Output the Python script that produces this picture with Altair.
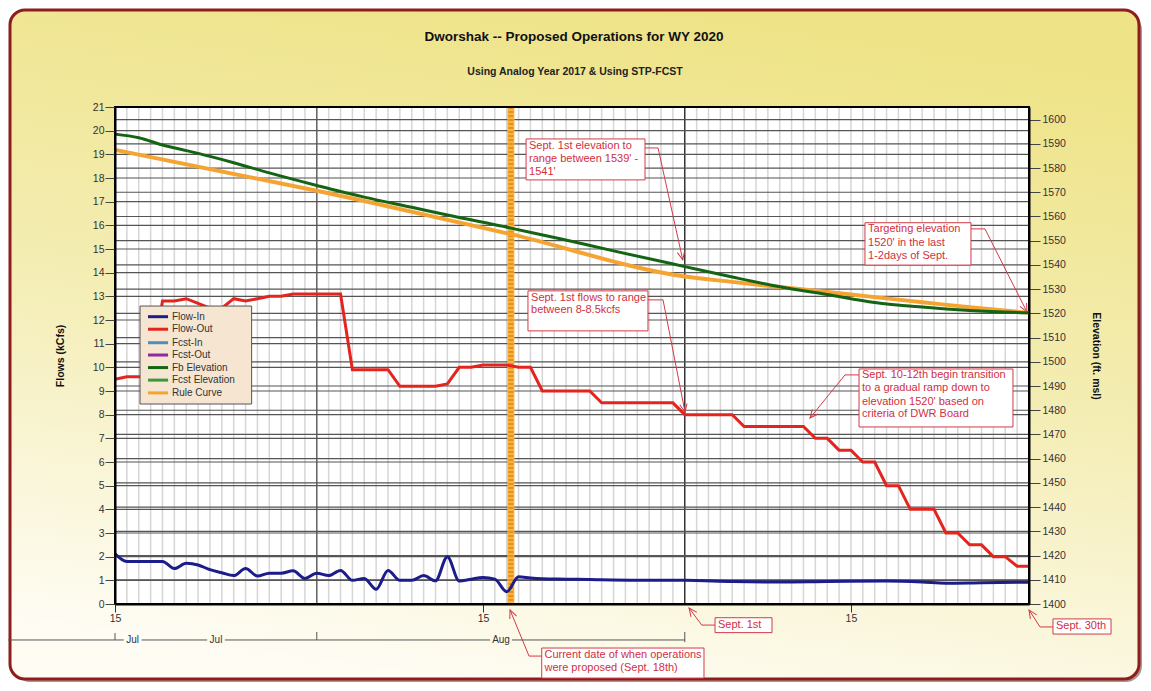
import math
import altair as alt
import pandas as pd

FONT = "Liberation Sans"
RED_TXT = "#d0303f"
RED_LINE = "#d23a48"

W, H = 914, 497
# x = days since Jul 15 (17 = Aug 1, 48 = Sep 1, 77 = Sep 30)
X_DOMAIN = [0, 77]
FLOW_DOMAIN = [0, 21]
ELEV_DOMAIN = [1400, 1605.2]

# ---------------- data ----------------
flow_out_days = list(range(78))
flow_out = [9.5, 9.6, 9.6, 9.6, 12.8, 12.8, 12.9, 12.7, 12.5, 12.5,
            12.9, 12.8, 12.9, 13.0, 13.0, 13.1, 13.1, 13.1, 13.1, 13.1,
            9.9, 9.9, 9.9, 9.9, 9.2, 9.2, 9.2, 9.2, 9.3, 10.0,
            10.0, 10.1, 10.1, 10.1, 10.0, 10.0, 9.0, 9.0, 9.0, 9.0,
            9.0, 8.5, 8.5, 8.5, 8.5, 8.5, 8.5, 8.5, 8.0, 8.0,
            8.0, 8.0, 8.0, 7.5, 7.5, 7.5, 7.5, 7.5, 7.5, 7.0,
            7.0, 6.5, 6.5, 6.0, 6.0, 5.0, 5.0, 4.0, 4.0, 4.0,
            3.0, 3.0, 2.5, 2.5, 2.0, 2.0, 1.6, 1.6]

flow_in_days = list(range(37)) + [38, 40, 44, 48, 52, 56, 60, 65, 68, 70, 73, 77]
flow_in = [2.12, 1.8, 1.8, 1.8, 1.8, 1.5, 1.72, 1.65, 1.45, 1.32,
           1.2, 1.5, 1.18, 1.3, 1.3, 1.4, 1.08, 1.3, 1.2, 1.42,
           1.0, 1.08, 0.62, 1.42, 1.0, 1.0, 1.2, 0.98, 2.0, 0.97,
           1.05, 1.12, 1.05, 0.52, 1.15, 1.1, 1.07,
           1.05, 1.03, 1.0, 1.0, 0.95, 0.93, 0.95, 0.97, 0.93, 0.88, 0.9, 0.92]

fb_days = [0, 2, 4, 6, 8, 10, 13, 17, 19, 21, 25, 29, 32.7, 33.35, 37.5, 42,
           48, 52, 56, 60, 64, 68, 72, 77]
fb_elev = [1594.0, 1592.5, 1589.5, 1587.2, 1584.8, 1582.2, 1578.0, 1572.8, 1570.3,
           1568.0, 1563.8, 1559.6, 1555.9, 1555.2, 1550.8, 1545.8, 1539.3, 1535.0,
           1531.0, 1527.8, 1524.5, 1522.6, 1521.2, 1520.2]

rule_days = [0, 17, 21, 33.35, 48, 52, 56, 60, 64, 68, 72, 77]
rule_elev = [1587.5, 1570.6, 1566.4, 1552.7, 1535.2, 1533.0, 1530.9, 1528.8,
             1526.7, 1524.6, 1522.5, 1520.2]

current_day = 33.35

series_names = ["Flow-In", "Flow-Out", "Fcst-In", "Fcst-Out",
                "Fb Elevation", "Fcst Elevation", "Rule Curve"]
series_colors = ["#1c1c8a", "#e3241f", "#4f8fb8", "#8e2a9e",
                 "#146414", "#3a9a3a", "#f5a431"]

x_tick_days = [0, 31, 62]
flow_ticks = list(range(0, 22))
elev_ticks = list(range(1400, 1601, 10))
grid_days = list(range(0, 77))
month_days = [17, 48]

# legend layout (data units)
legend_rows = [12.14, 11.61, 11.04, 10.52, 9.99, 9.46, 8.92]

# bottom month band
band_seg_d0 = [-9.0, 2.24, 9.26, 33.44]
band_seg_d1 = [0.74, 7.76, 31.6, 48.0]
band_f = -1.52
band_tick_d = [0, 17, 48]
band_tick_top = [-1.23, -1.18, -1.18]
band_tick_bot = [-1.52, -1.52, -1.61]
band_labels = ["Jul", "Jul", "Aug"]
band_label_d = [1.49, 8.51, 32.52]

# annotations
box_d0 = [34.63, 34.79, 63.18, 62.68, 50.55, 35.95, 79.02]
box_d1 = [44.65, 44.90, 72.11, 75.65, 55.35, 49.62, 83.91]
box_ft = [19.65, 13.23, 16.11, 9.93, -0.58, -1.86, -0.63]
box_fb = [17.92, 11.54, 14.32, 7.48, -1.21, -3.13, -1.27]

note_d = [34.88, 34.88, 34.88, 35.05, 35.05, 63.44, 63.44, 63.44,
          62.93, 62.93, 62.93, 62.93, 50.80, 36.18, 36.18, 79.27]
note_f = [19.37, 18.79, 18.24, 12.94, 12.42, 15.83, 15.27, 14.70,
          9.68, 9.11, 8.55, 8.03, -0.89, -2.15, -2.72, -0.93]
note_text = ["Sept. 1st elevation to", "range between 1539' -", "1541'",
             "Sept. 1st flows to range", "between 8-8.5kcfs",
             "Targeting elevation", "1520' in the last", "1-2days of Sept.",
             "Sept. 10-12th begin transition", "to a gradual ramp down to",
             "elevation 1520' based on", "criteria of DWR Board",
             "Sept. 1st",
             "Current date of when operations", "were proposed (Sept. 18th)",
             "Sept. 30th"]

leaders = [
    [(44.65, 19.27), (45.75, 19.27), (47.83, 14.54)],
    [(44.90, 12.85), (46.17, 12.85), (48.02, 8.11)],
    [(72.11, 15.85), (73.29, 15.85), (76.83, 12.34)],
    [(62.68, 9.68), (61.50, 9.68), (58.55, 7.86)],
    [(50.55, -0.89), (49.43, -0.89), (48.36, -0.17)],
    [(35.95, -2.20), (34.88, -2.20), (33.28, -0.25)],
    [(79.02, -0.97), (77.93, -0.97), (77.0, -0.25)],
]

# ---------------- scales / axes ----------------
PPD = W / (X_DOMAIN[1] - X_DOMAIN[0])
PPF = H / (FLOW_DOMAIN[1] - FLOW_DOMAIN[0])

XS = alt.Scale(domain=X_DOMAIN, nice=False, zero=False)
FS = alt.Scale(domain=FLOW_DOMAIN, nice=False, zero=False)
ES = alt.Scale(domain=ELEV_DOMAIN, nice=False, zero=False)
CS = alt.Scale(domain=series_names, range=series_colors)

XA = alt.Axis(values=x_tick_days, labelExpr="'15'", title=None, grid=False,
              tickSize=8, tickColor="#333333", tickWidth=1,
              domainColor="#000000", domainWidth=2,
              labelFontSize=10.5, labelColor="#333333", labelFont=FONT,
              labelPadding=1, labelFlush=False, labelOverlap=False, zindex=1)
FA = alt.Axis(values=flow_ticks, title="Flows (kCfs)", grid=False, format="d",
              tickSize=10, tickColor="#444444", tickWidth=1,
              domainColor="#000000", domainWidth=2,
              labelFontSize=10.5, labelColor="#333333", labelFont=FONT,
              labelPadding=1, labelFlush=False, labelOverlap=False,
              titleFont=FONT, titleFontSize=10.5, titleFontWeight="bold",
              titleColor="#111111", titleX=-55, titleY=H / 2, titleAngle=270,
              titleAlign="center", titleBaseline="middle", zindex=1)
EA = alt.Axis(orient="right", values=elev_ticks, title="Elevation (ft. msl)",
              grid=False, format="d", tickSize=11, tickColor="#444444", tickWidth=1,
              domainColor="#000000", domainWidth=2,
              labelFontSize=10.5, labelColor="#333333", labelFont=FONT,
              labelPadding=2, labelFlush=False, labelOverlap=False,
              titleFont=FONT, titleFontSize=10.5, titleFontWeight="bold",
              titleColor="#111111", titleX=66, titleY=H / 2, titleAngle=90,
              titleAlign="center", titleBaseline="middle", zindex=1)


def X(f):
    return alt.X(f, type="quantitative", scale=XS, axis=XA)


def Y(f):
    return alt.Y(f, type="quantitative", scale=FS, axis=FA)


def YE(f, axis=None):
    return alt.Y(f, type="quantitative", scale=ES, axis=axis)


def C():
    return alt.Color("series:N", scale=CS, legend=None)


one = pd.DataFrame({"a": [0]})

# ---------------- child A: backgrounds + grids (elevation scale) ----------------
bg_shadow = alt.Chart(one).mark_rect(fill="#6a3a30", opacity=0.55, cornerRadius=16).encode(
    x=alt.value(-101), x2=alt.value(1027), y=alt.value(-93), y2=alt.value(575))
bg = alt.Chart(one).mark_rect(
    fill={"gradient": "linear", "x1": 0.62, "y1": 0, "x2": 0.38, "y2": 1,
          "stops": [{"offset": 0, "color": "#eee386"},
                    {"offset": 0.5, "color": "#f4edb4"},
                    {"offset": 1, "color": "#fefcf3"}]},
    stroke="#8e1d1d", strokeWidth=3, cornerRadius=15).encode(
    x=alt.value(-105), x2=alt.value(1024), y=alt.value(-97), y2=alt.value(572))
plot_bg = alt.Chart(one).mark_rect(fill="white").encode(
    x=alt.value(0), x2=alt.value(W), y=alt.value(0), y2=alt.value(H))
vgrid = alt.Chart(pd.DataFrame({"d": grid_days})).mark_rule(
    color="#d6d6d6", strokeWidth=1.5).encode(x=X("d"))
mgrid = alt.Chart(pd.DataFrame({"d": month_days, "c": ["#555555", "#222222"]})).mark_rule(
    strokeWidth=1.3).encode(x=X("d"), color=alt.Color("c:N", scale=None))
egrid = alt.Chart(pd.DataFrame({"e": elev_ticks[1:]})).mark_rule(
    color="#555555", strokeWidth=1.2).encode(y=YE("e"))
childA = alt.layer(bg_shadow, bg, plot_bg, vgrid, mgrid, egrid)

# ---------------- child B: flows, annotations, legend ----------------
fgrid = alt.Chart(pd.DataFrame({"f": flow_ticks[1:-1]})).mark_rule(
    color="#555555", strokeWidth=1.2).encode(y=Y("f"))
cur_base = alt.Chart(pd.DataFrame({"d": [current_day]})).mark_rule(
    color="#f6b445", strokeWidth=7).encode(x=X("d"))
cur_dots = alt.Chart(pd.DataFrame({"d": [current_day]})).mark_rule(
    color="#ea8f18", strokeWidth=5, strokeDash=[2, 2]).encode(x=X("d"))

fin_df = pd.DataFrame({"d": flow_in_days, "v": flow_in, "series": "Flow-In"})
fout_df = pd.DataFrame({"d": flow_out_days, "v": flow_out, "series": "Flow-Out"})
fin_line = alt.Chart(fin_df).mark_line(strokeWidth=3, interpolate="monotone").encode(
    x=X("d"), y=Y("v"), color=C())
fout_line = alt.Chart(fout_df).mark_line(strokeWidth=3).encode(
    x=X("d"), y=Y("v"), color=C())

box_df = pd.DataFrame({"d0": box_d0, "d1": box_d1, "ft": box_ft, "fb": box_fb})
boxes = alt.Chart(box_df).mark_rect(fill="white", stroke=RED_LINE, strokeWidth=1).encode(
    x=X("d0"), x2="d1", y=Y("ft"), y2="fb")
note_df = pd.DataFrame({"d": note_d, "f": note_f, "t": note_text})
notes = alt.Chart(note_df).mark_text(align="left", baseline="middle", fontSize=11,
                                     font=FONT, color=RED_TXT).encode(
    x=X("d"), y=Y("f"), text="t:N")

lead_rows = []
tip_rows = []
for gi, pts in enumerate(leaders):
    for oi, (d, f) in enumerate(pts):
        lead_rows.append({"g": gi, "o": oi, "d": d, "f": f})
    (pd_, pf), (td, tf) = pts[-2], pts[-1]
    dx = (td - pd_) * PPD
    dy = -(tf - pf) * PPF
    ang = math.degrees(math.atan2(-dx, dy)) % 360
    tip_rows.append({"d": td, "f": tf, "ang": ang})
lead_lines = alt.Chart(pd.DataFrame(lead_rows)).mark_line(
    color=RED_LINE, strokeWidth=1).encode(
    x=X("d"), y=Y("f"), detail="g:N", order="o:Q")
tips = alt.Chart(pd.DataFrame(tip_rows)).mark_point(
    shape="M-0.45,-1L0,0L0.45,-1", filled=False, color=RED_LINE, strokeWidth=1,
    size=270, opacity=1).encode(
    x=X("d"), y=Y("f"), angle=alt.Angle("ang:Q", scale=None))

# legend
leg_box = alt.Chart(pd.DataFrame({"d0": [2.11], "d1": [11.51], "ft": [12.59], "fb": [8.45]})).mark_rect(
    fill="#f6e6d1", stroke="#555555", strokeWidth=1).encode(
    x=X("d0"), x2="d1", y=Y("ft"), y2="fb")
leg_df = pd.DataFrame({"series": series_names, "f": legend_rows,
                       "d0": 2.78, "d1": 4.47, "dl": 4.80})
leg_sym = alt.Chart(leg_df).mark_rule(strokeWidth=3).encode(
    x=X("d0"), x2="d1", y=Y("f"), color=C())
leg_txt = alt.Chart(leg_df).mark_text(align="left", baseline="middle", fontSize=10,
                                      font=FONT, color="#333333").encode(
    x=X("dl"), y=Y("f"), text="series:N")

# bottom month band
band_df = pd.DataFrame({"d0": band_seg_d0, "d1": band_seg_d1, "f": band_f})
band_line = alt.Chart(band_df).mark_rule(color="#555555", strokeWidth=1).encode(
    x=X("d0"), x2="d1", y=Y("f"))
btick_df = pd.DataFrame({"d": band_tick_d, "f0": band_tick_top, "f1": band_tick_bot})
band_ticks = alt.Chart(btick_df).mark_rule(color="#555555", strokeWidth=1).encode(
    x=X("d"), y=Y("f0"), y2="f1")
blab_df = pd.DataFrame({"d": band_label_d, "f": band_f, "t": band_labels})
band_text = alt.Chart(blab_df).mark_text(baseline="middle", fontSize=10, font=FONT,
                                         color="#333333").encode(
    x=X("d"), y=Y("f"), text="t:N")

# titles
title = alt.Chart(pd.DataFrame({"t": ["Dworshak -- Proposed Operations for WY 2020"]})).mark_text(
    fontSize=13.5, fontWeight="bold", font=FONT, color="#111111", baseline="middle").encode(
    x=alt.value(459), y=alt.value(-70), text="t:N")
subtitle = alt.Chart(pd.DataFrame({"t": ["Using Analog Year 2017 & Using STP-FCST"]})).mark_text(
    fontSize=10.5, fontWeight="bold", font=FONT, color="#222222", baseline="middle").encode(
    x=alt.value(460), y=alt.value(-35), text="t:N")

border = alt.Chart(one).mark_rect(filled=False, stroke="#000000", strokeWidth=2).encode(
    x=alt.value(0), x2=alt.value(W), y=alt.value(0), y2=alt.value(H))

childB = alt.layer(fgrid, cur_base, cur_dots, fin_line, fout_line,
                   lead_lines, tips, boxes, notes,
                   leg_box, leg_sym, leg_txt,
                   band_line, band_ticks, band_text,
                   title, subtitle, border)

# ---------------- child C: elevations (right axis) ----------------
fb_df = pd.DataFrame({"d": fb_days, "v": fb_elev, "series": "Fb Elevation"})
rule_df = pd.DataFrame({"d": rule_days, "v": rule_elev, "series": "Rule Curve"})
rule_line = alt.Chart(rule_df).mark_line(strokeWidth=4, interpolate="monotone").encode(
    x=X("d"), y=YE("v", EA), color=C())
fb_line = alt.Chart(fb_df).mark_line(strokeWidth=3, interpolate="monotone").encode(
    x=X("d"), y=YE("v", EA), color=C())
childC = alt.layer(rule_line, fb_line)

chart = alt.layer(childA, childB, childC).resolve_scale(y="independent").properties(
    width=W, height=H, autosize="none",
    padding={"left": 107, "top": 99, "right": 114, "bottom": 79}
).configure_view(stroke=None).configure(background="white")

chart.save("out.html", embed_options={"renderer": "svg", "actions": False})
